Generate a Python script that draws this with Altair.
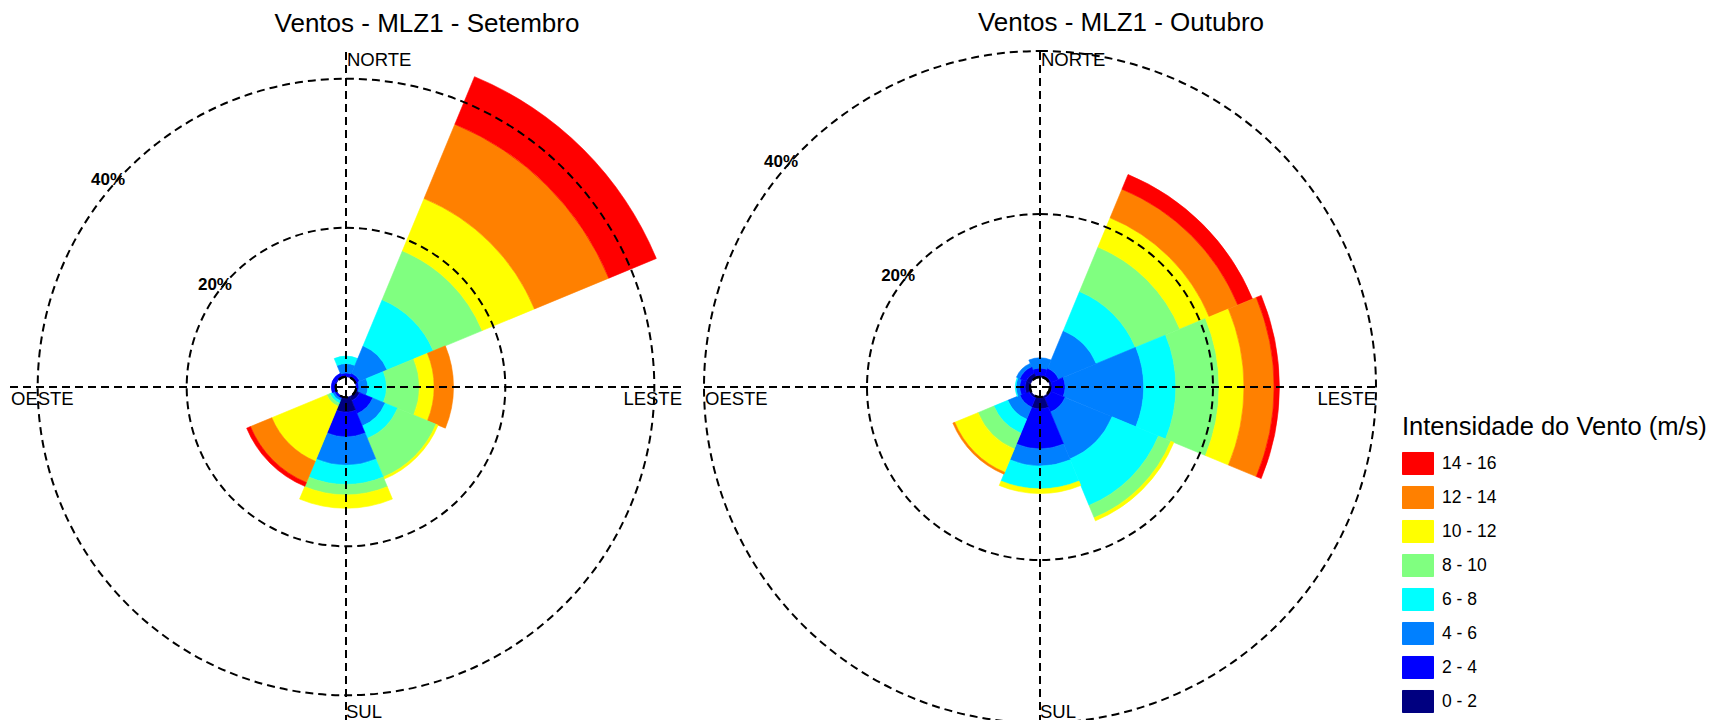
import math
import altair as alt
import pandas as pd

# ---- speed classes and colours (legend order: low -> high) ----
classes = ["0 - 2", "2 - 4", "4 - 6", "6 - 8", "8 - 10", "10 - 12", "12 - 14", "14 - 16"]
class_colors = ["#000080", "#0000FF", "#0080FF", "#00FFFF", "#80FF80", "#FFFF00", "#FF8000", "#FF0000"]

directions = ["N", "NE", "E", "SE", "S", "SW", "W", "NW"]
bearings = [0, 45, 90, 135, 180, 225, 270, 315]
sector_half = 22.5

# ---- Setembro: frequency (%) of each speed class, per direction ----
set_N = [0.10, 0.40, 1.25, 1.00, 0.0, 0.0, 0.0, 0.0]
set_NE = [0.10, 0.50, 4.00, 6.70, 7.10, 7.60, 10.80, 6.90]
set_E = [0.05, 0.30, 1.20, 2.50, 4.40, 2.00, 2.60, 0.0]
set_SE = [0.60, 1.90, 1.80, 1.80, 5.60, 0.30, 0.0, 0.0]
set_S = [2.00, 3.30, 3.80, 2.60, 1.40, 1.80, 0.0, 0.0]
set_SW = [0.05, 0.25, 0.30, 0.35, 0.45, 8.00, 3.10, 0.55]
set_W = [0.10, 0.50, 0.0, 0.0, 0.0, 0.0, 0.0, 0.0]
set_NW = [0.10, 0.50, 0.0, 0.0, 0.0, 0.0, 0.0, 0.0]

# ---- Outubro ----
out_N = [0.25, 0.85, 1.25, 0.0, 0.0, 0.0, 0.0, 0.0]
out_NE = [0.25, 1.00, 5.00, 5.20, 5.90, 3.90, 3.80, 1.95]
out_E = [0.25, 1.60, 9.65, 3.95, 5.30, 3.05, 3.70, 0.65]
out_SE = [0.25, 1.85, 6.25, 6.15, 1.65, 0.40, 0.0, 0.0]
out_S = [1.45, 4.90, 2.10, 2.80, 0.05, 0.55, 0.0, 0.0]
out_SW = [0.25, 1.20, 1.60, 1.85, 2.10, 3.10, 0.25, 0.0]
out_W = [0.60, 0.65, 0.45, 0.10, 0.0, 0.0, 0.0, 0.0]
out_NW = [0.60, 0.85, 0.45, 0.0, 0.0, 0.0, 0.0, 0.0]

rings = [20, 40]
ring_labels = ["20%", "40%"]
ring_label_bearing = [308, 311]
compass_names = ["NORTE", "LESTE", "SUL", "OESTE"]
compass_x = [0, 1, 0, -1]
compass_y = [1, 0, -1, 0]

FONT = "Liberation Sans"


def rose_table(per_dir):
    rows = []
    for d, b, vals in zip(directions, bearings, per_dir):
        cum = 0.0
        for c, v in zip(classes, vals):
            if v > 0:
                rows.append({"dir": d, "cls": c, "r0": cum, "r1": cum + v,
                             "t0": b - sector_half, "t1": b + sector_half})
            cum += v
    return pd.DataFrame(rows)


color_scale = alt.Scale(domain=classes[::-1], range=class_colors[::-1])
theta_scale = alt.Scale(domain=[0, 360], range=[0, 2 * math.pi])


def make_rose(df, title, r_range, title_offset):
    rscale = alt.Scale(type="linear", domain=[0, 40], range=r_range, zero=False, nice=False)
    xs = alt.Scale(domain=[-1, 1], nice=False, zero=False)
    ys = alt.Scale(domain=[-1, 1], nice=False, zero=False)

    bars = alt.Chart(df).mark_arc(strokeWidth=0.6).encode(
        theta=alt.Theta("t0:Q", scale=theta_scale, stack=None),
        theta2="t1:Q",
        radius=alt.Radius("r1:Q", scale=rscale, stack=None),
        radius2="r0:Q",
        color=alt.Color("cls:N", scale=color_scale, legend=alt.Legend(
            title="Intensidade do Vento (m/s)", orient="none", legendX=1392, legendY=364,
            symbolType="M-1,-0.71H1V0.71H-1Z", symbolSize=961,
            symbolStrokeColor="#333333", symbolStrokeWidth=1, symbolOpacity=1,
            labelFontSize=17.5, labelFont=FONT, labelColor="black", labelOffset=8,
            titleFontSize=25.5, titleFont=FONT, titleFontWeight="normal", titleColor="black",
            titleLimit=500, titlePadding=7, rowPadding=4, padding=0)),
        stroke=alt.Stroke("cls:N", scale=color_scale, legend=None),
    )

    ring_df = pd.DataFrame({"ring": rings, "label": ring_labels, "bearing": ring_label_bearing})
    circles = alt.Chart(ring_df).mark_arc(
        filled=False, stroke="black", strokeWidth=2, strokeDash=[8, 5],
        theta=0, theta2=2 * math.pi
    ).encode(radius=alt.Radius("ring:Q", scale=rscale, stack=None))

    ring_text = alt.Chart(ring_df).mark_text(
        font=FONT, fontSize=17, fontWeight="bold", color="black",
        align="center", baseline="middle", radiusOffset=7
    ).encode(
        theta=alt.Theta("bearing:Q", scale=theta_scale, stack=None),
        radius=alt.Radius("ring:Q", scale=rscale, stack=None),
        text="label:N",
    )

    axes_df = pd.DataFrame({"x": [-1, 0], "x2": [1, 0], "y": [0, -1], "y2": [0, 1]})
    axes = alt.Chart(axes_df).mark_rule(color="black", strokeWidth=2, strokeDash=[8, 5]).encode(
        x=alt.X("x:Q", scale=xs, axis=None), x2="x2:Q",
        y=alt.Y("y:Q", scale=ys, axis=None), y2="y2:Q",
    )

    cdf = pd.DataFrame({"name": compass_names, "x": compass_x, "y": compass_y})
    styles = {
        "NORTE": dict(align="left", baseline="top", dx=1, dy=0),
        "LESTE": dict(align="right", baseline="alphabetic", dx=0, dy=18),
        "SUL": dict(align="left", baseline="alphabetic", dx=0, dy=-5),
        "OESTE": dict(align="left", baseline="alphabetic", dx=1, dy=18),
    }
    labels = []
    for name in compass_names:
        labels.append(
            alt.Chart(cdf).transform_filter(alt.datum.name == name).mark_text(
                font=FONT, fontSize=18.5, color="black", **styles[name]
            ).encode(
                x=alt.X("x:Q", scale=xs, axis=None),
                y=alt.Y("y:Q", scale=ys, axis=None),
                text="name:N",
            )
        )

    return alt.layer(bars, circles, axes, ring_text, *labels).properties(
        width=672, height=672,
        title=alt.TitleParams(title, fontSize=26, font=FONT, fontWeight="normal",
                              color="black", anchor="middle", dx=81, offset=title_offset),
    )


left = make_rose(rose_table([set_N, set_NE, set_E, set_SE, set_S, set_SW, set_W, set_NW]),
                 "Ventos - MLZ1 - Setembro", [10.3, 308.3], 13)
right = make_rose(rose_table([out_N, out_NE, out_E, out_SE, out_S, out_SW, out_W, out_NW]),
                  "Ventos - MLZ1 - Outubro", [10.0, 336.0], 11)

chart = alt.hconcat(left, right, spacing=17).resolve_scale(
    color="shared", stroke="shared", theta="independent", radius="independent",
    x="independent", y="independent"
).properties(
    padding={"left": 1, "top": 2, "right": 0, "bottom": 0}
).configure_view(stroke=None)

chart.save("out.html", embed_options={"renderer": "svg", "actions": False})
